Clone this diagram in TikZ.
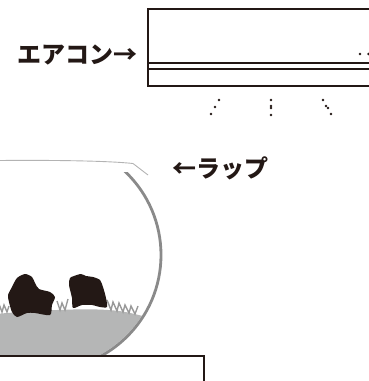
\documentclass[tikz,border=0pt]{standalone}
\usepackage{fontspec}
\newfontfamily\cjk{Noto Sans CJK JP}
\definecolor{ink}{HTML}{231815}
\definecolor{bowlgray}{HTML}{8A8A8A}
\definecolor{soilgray}{HTML}{B5B6B6}
\definecolor{grassgray}{HTML}{999999}
\definecolor{wrapgray}{HTML}{B3B3B3}
\begin{document}
\begin{tikzpicture}[x=1pt,y=-1pt,
  label/.style={text=ink,inner sep=0pt,font=\cjk\bfseries\fontsize{24}{24}\selectfont},
  unit/.style={draw=ink,line width=1.5pt},
  bowl/.style={draw=bowlgray,line width=2.8pt},
  wrap/.style={draw=wrapgray,line width=0.9pt},
  grass/.style={draw=grassgray,line width=1.4pt,line join=miter},
  rock/.style={fill=ink},
  airdot/.style={fill=ink}]
\useasboundingbox (0,0) rectangle (369,381);
\clip (0,0) rectangle (369,381);

% air conditioner body
\draw[unit] (380,9) -- (148,9) -- (148,86) -- (380,86);
\draw[unit] (148,63) -- (380,63);
\draw[unit] (148,69) -- (380,69);
\fill[airdot] (360,54) circle[radius=1.3];
\fill[airdot] (368.5,54) circle[radius=1.3];

% air flow dots
\foreach \p in {(219,100),(215,107),(211,114),
                (271,100),(271,106),(271,108),(271,115),
                (323,100),(326,106),(328,108),(331,114)}
  \fill[airdot] \p circle[radius=1.3];

% labels
\node[label] (aircon) at (77.5,55) {エアコン→};
\node[label] (wraptext) at (220,168) {←ラップ};

% plastic wrap over the bowl
\draw[wrap] (-2,160.5) .. controls (60,160) and (110,161) .. (133,163.5) -- (148,175);

% soil, grass and stones inside the bowl
\begin{scope}
  \clip (46,255) circle[radius=113.5];
  \fill[soilgray] (-5,314) .. controls (30,311) and (80,308) .. (108,310)
     .. controls (125,311) and (135,314) .. (150,318) -- (150,356) -- (-5,356) -- cycle;
  \draw[grass] (-1,304) -- (2,312) -- (4,305) -- (7,312) -- (9,306);
  \draw[grass] (57,301) -- (60,310) -- (62,303) -- (65,310) -- (68,299);
  \draw[grass] (107,300) -- (111,310) -- (113,302) -- (117,311) -- (119,303)
     -- (123,312) -- (125,305) -- (129,313) -- (131,306) -- (135,314) -- (138,306);
\end{scope}
\fill[rock] plot[smooth cycle,tension=0.45] coordinates {(17,278) (25,274) (32,277) (35,283) (39,289) (50,292) (55,297) (52,305) (50,315) (35,313) (27,313) (17,317) (12,312) (9,302) (8,295) (12,287)};
\fill[rock] plot[smooth cycle,tension=0.45] coordinates {(70,278) (74,276) (81,274) (86,276) (93,277) (100,280) (103,287) (106,298) (107,307) (100,307) (92,305) (82,305) (73,308) (72,298) (69,285)};

% glass bowl
\begin{scope}
  \clip (-10,172) rectangle (200,355);
  \draw[bowl] (46,255) circle[radius=115];
\end{scope}

% shelf
\draw[unit] (-2,356) -- (204,356) -- (204,390);
\end{tikzpicture}
\end{document}
